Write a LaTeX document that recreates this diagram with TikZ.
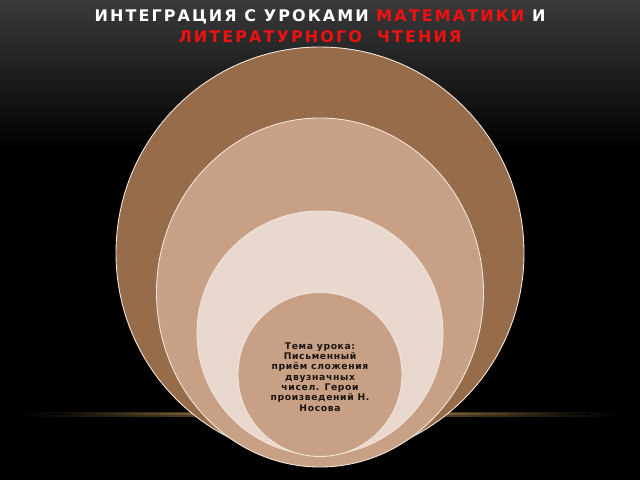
\documentclass[tikz,border=0pt]{standalone}
\usepackage{fontspec}
\setmainfont{DejaVu Sans}
\usetikzlibrary{shapes.geometric}
\definecolor{bgtop}{HTML}{3A3A3A}
\definecolor{brownA}{HTML}{976C4A}
\definecolor{tanB}{HTML}{C8A086}
\definecolor{paleC}{HTML}{E8D8CE}
\definecolor{rimcol}{HTML}{F2E4D8}
\definecolor{titlered}{HTML}{F01010}
\definecolor{glow}{HTML}{E0B060}
\definecolor{inktext}{HTML}{1A1410}
\begin{document}
\begin{tikzpicture}[x=1pt,y=-1pt,
  disc/.style={ellipse,draw=rimcol,line width=0.9pt,inner sep=0pt},
  titletext/.style={font=\fontsize{16}{18}\selectfont\bfseries\addfontfeatures{LetterSpace=13},text=white,inner sep=0pt},
  centertext/.style={font=\fontsize{9.2}{10.3}\selectfont\bfseries\addfontfeatures{LetterSpace=7},text=inktext,align=center,inner sep=0pt}]
\useasboundingbox (0,0) rectangle (640,480);
\fill[black] (0,0) rectangle (640,480);
\shade[top color=bgtop,bottom color=black] (0,0) rectangle (640,150);
% glow line
\shade[left color=black,right color=black,middle color=glow!60!black] (20,412) rectangle (620,416);
\shade[left color=black,right color=black,middle color=glow] (50,413.2) rectangle (590,414.8);
% discs
\node[disc,fill=brownA,minimum width=408pt,minimum height=412pt] (outer) at (320,253) {};
\node[disc,fill=tanB,minimum width=327pt,minimum height=349pt] (second) at (320,292.5) {};
\node[disc,fill=paleC,minimum width=246pt,minimum height=244pt] (third) at (320,333) {};
\node[disc,fill=tanB,minimum width=164pt,minimum height=164pt] (inner) at (320,374.5) {};
\node[centertext] (topic) at (320,377) {Тема урока:\\Письменный\\приём сложения\\двузначных\\чисел. Герои\\произведений Н.\\Носова};
% title
\node[titletext] (title1) at (320,17) {ИНТЕГРАЦИЯ С УРОКАМИ \textcolor{titlered}{МАТЕМАТИКИ} И};
\node[titletext,text=titlered] (title2) at (320,36.5) {ЛИТЕРАТУРНОГО\ \ ЧТЕНИЯ};
\end{tikzpicture}
\end{document}
